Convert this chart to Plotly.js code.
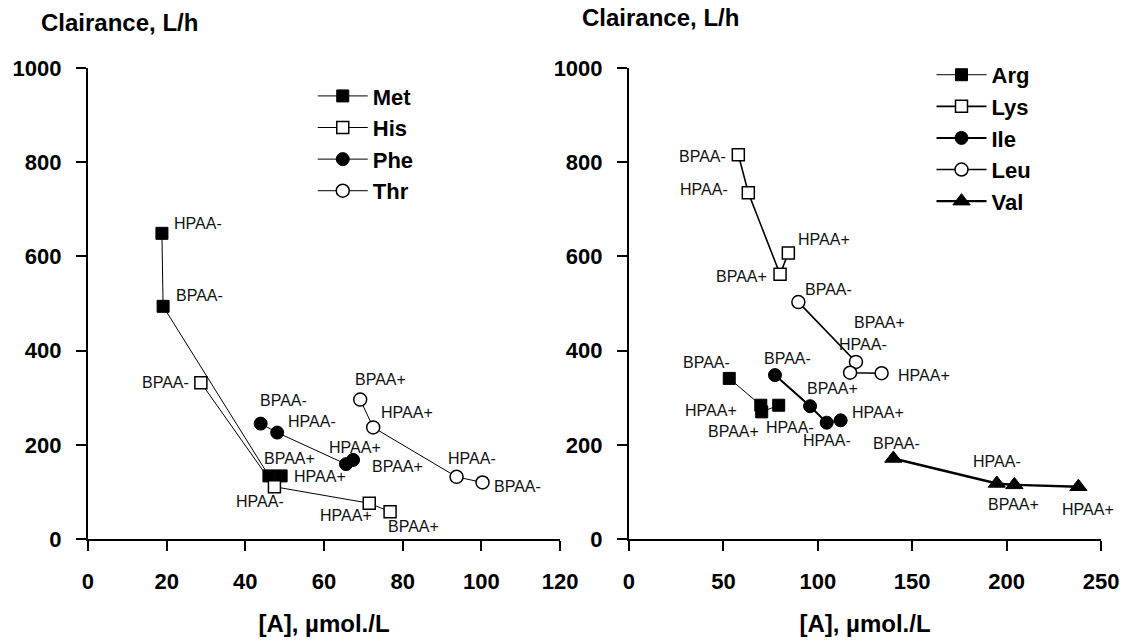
<!DOCTYPE html>
<html>
<head>
<meta charset="utf-8">
<script src="https://cdn.plot.ly/plotly-3.0.1.min.js"></script>
<style>
  html, body { margin: 0; padding: 0; background: #ffffff; }
  #chart { width: 1125px; height: 642px; }
</style>
</head>
<body>
<div id="chart"></div>
<script>
// ---- Data: [A] in µmol/L (x) and clearance in L/h (y) per amino acid ----
// Left panel
const metX = [18.8, 19.1, 46.0, 49.1];
const metY = [649, 494, 134, 134];
const metLab = ['HPAA-', 'BPAA-', 'BPAA+', 'HPAA+'];

const hisX = [28.7, 47.4, 71.5, 76.8];
const hisY = [332, 111, 76, 58];
const hisLab = ['BPAA-', 'HPAA-', 'HPAA+', 'BPAA+'];

const pheX = [43.9, 48.1, 65.6, 67.4];
const pheY = [245, 226, 159, 168];
const pheLab = ['BPAA-', 'HPAA-', 'HPAA+', 'BPAA+'];

const thrX = [69.2, 72.5, 93.7, 100.3];
const thrY = [296, 237, 132, 120];
const thrLab = ['BPAA+', 'HPAA+', 'HPAA-', 'BPAA-'];

// Right panel
const argX = [53.1, 69.8, 70.3, 79.3];
const argY = [341, 284, 270, 284];
const argLab = ['BPAA-', 'HPAA+', 'BPAA+', 'HPAA-'];

const lysX = [57.9, 63.2, 80.0, 84.4];
const lysY = [816, 735, 562, 607];
const lysLab = ['BPAA-', 'HPAA-', 'BPAA+', 'HPAA+'];

const ileX = [77.3, 95.9, 104.7, 112.1];
const ileY = [348, 282, 247, 252];
const ileLab = ['BPAA-', 'BPAA+', 'HPAA-', 'HPAA+'];

const leuX = [89.7, 120.2, 117.1, 133.8];
const leuY = [503, 376, 353, 352];
const leuLab = ['BPAA-', 'HPAA-', 'BPAA+', 'HPAA+'];

const valX = [140.0, 194.8, 204.1, 238.0];
const valY = [171, 118, 115, 111];
const valLab = ['BPAA-', 'HPAA-', 'BPAA+', 'HPAA+'];

// Axis ticks
const leftXTicks = [0, 20, 40, 60, 80, 100, 120];
const rightXTicks = [0, 50, 100, 150, 200, 250];
const yTicks = [0, 200, 400, 600, 800, 1000];

// ---- Styling ----
const FONT = '"Liberation Sans", Arial, sans-serif';
const boldFont = (size) => ({ family: FONT, size: size, color: '#000', weight: 700 });

// pixel offsets of each point label (dx right, dy up)
const metOff = [[36, 10], [36, 11], [21, 17], [39, -1]];
const hisOff = [[-35, 0], [-14, -15], [-23, -12], [23, -15]];
const pheOff = [[23, 23], [35, 11], [9, 17], [44, -7]];
const thrOff = [[20, 20], [34, 15], [15, 18], [35, -4]];
const argOff = [[-23, 16], [-50, -5], [-28, -20], [11, -22]];
const lysOff = [[-36, -2], [-44, 3], [-39, -2], [36, 14]];
const ileOff = [[13, 17], [22, 18], [0, -18], [37, 8]];
const leuOff = [[30, 13], [7, 17], [29, 50], [42, -2]];
const valOff = [[3, 15], [0, 22], [-1, -20], [10, -23]];

function series(name, xs, ys, panel, symbol, filled, lineWidth, size) {
  return {
    type: 'scatter',
    mode: 'lines+markers',
    name: name,
    x: xs,
    y: ys,
    xaxis: panel === 1 ? 'x' : 'x2',
    yaxis: panel === 1 ? 'y' : 'y2',
    legend: panel === 1 ? 'legend' : 'legend2',
    line: { color: '#000', width: lineWidth },
    marker: {
      symbol: symbol,
      size: size,
      color: filled ? '#000' : '#fff',
      line: { color: '#000', width: filled ? 1 : 1.5 }
    },
    hoverinfo: 'x+y+name'
  };
}

const traces = [
  series('Met', metX, metY, 1, 'square', true, 1, 12),
  series('His', hisX, hisY, 1, 'square', false, 1, 12),
  series('Phe', pheX, pheY, 1, 'circle', true, 1, 13),
  series('Thr', thrX, thrY, 1, 'circle', false, 1, 13),
  series('Arg', argX, argY, 2, 'square', true, 1, 12),
  series('Lys', lysX, lysY, 2, 'square', false, 1.6, 12),
  series('Ile', ileX, ileY, 2, 'circle', true, 2, 13),
  series('Leu', leuX, leuY, 2, 'circle', false, 1.6, 13),
  series('Val', valX, valY, 2, 'triangle-up', true, 2.4, 15)
];

function pointLabels(xs, ys, labels, offs, panel) {
  return labels.map((t, i) => ({
    x: xs[i], y: ys[i],
    xref: panel === 1 ? 'x' : 'x2',
    yref: panel === 1 ? 'y' : 'y2',
    text: t,
    showarrow: false,
    xanchor: 'center', yanchor: 'middle',
    xshift: offs[i][0], yshift: offs[i][1],
    font: { family: FONT, size: 16, color: '#111' }
  }));
}

const annotations = [].concat(
  pointLabels(metX, metY, metLab, metOff, 1),
  pointLabels(hisX, hisY, hisLab, hisOff, 1),
  pointLabels(pheX, pheY, pheLab, pheOff, 1),
  pointLabels(thrX, thrY, thrLab, thrOff, 1),
  pointLabels(argX, argY, argLab, argOff, 2),
  pointLabels(lysX, lysY, lysLab, lysOff, 2),
  pointLabels(ileX, ileY, ileLab, ileOff, 2),
  pointLabels(leuX, leuY, leuLab, leuOff, 2),
  pointLabels(valX, valY, valLab, valOff, 2),
  [
    { text: 'Clairance, L/h', xref: 'paper', yref: 'paper', x: 0.1062, y: 0.9657,
      xanchor: 'center', yanchor: 'middle', showarrow: false, font: boldFont(24) },
    { text: 'Clairance, L/h', xref: 'paper', yref: 'paper', x: 0.5871, y: 0.9735,
      xanchor: 'center', yanchor: 'middle', showarrow: false, font: boldFont(24) }
  ]
);

const axisCommon = {
  showline: true, linecolor: '#000', linewidth: 2,
  ticks: 'outside', ticklen: 10, tickwidth: 2, tickcolor: '#000',
  showgrid: false, zeroline: false,
  tickfont: boldFont(22),
  fixedrange: true
};

const yDomain = [0.1604, 0.8941];

const layout = {
  width: 1125, height: 642,
  margin: { l: 0, r: 0, t: 0, b: 0 },
  paper_bgcolor: '#fff', plot_bgcolor: '#fff',
  showlegend: true,
  xaxis: Object.assign({}, axisCommon, {
    domain: [0.0782, 0.4978], range: [0, 120], tickvals: leftXTicks, anchor: 'y',
    ticklabelstandoff: 12,
    title: { text: '[A], µmol./L', font: boldFont(24), standoff: 22 }
  }),
  yaxis: Object.assign({}, axisCommon, {
    domain: yDomain, range: [0, 1000], tickvals: yTicks, anchor: 'x',
    ticklabelstandoff: 10
  }),
  xaxis2: Object.assign({}, axisCommon, {
    domain: [0.5591, 0.9787], range: [0, 250], tickvals: rightXTicks, anchor: 'y2',
    ticklabelstandoff: 12,
    title: { text: '[A], µmol./L', font: boldFont(24), standoff: 22 }
  }),
  yaxis2: Object.assign({}, axisCommon, {
    domain: yDomain, range: [0, 1000], tickvals: yTicks, anchor: 'x2',
    ticklabelstandoff: 10
  }),
  legend: {
    x: 0.278, y: 0.883, xanchor: 'left', yanchor: 'top',
    bgcolor: 'rgba(0,0,0,0)', borderwidth: 0, itemwidth: 50,
    font: boldFont(22), tracegroupgap: 0
  },
  legend2: {
    x: 0.828, y: 0.916, xanchor: 'left', yanchor: 'top',
    bgcolor: 'rgba(0,0,0,0)', borderwidth: 0, itemwidth: 50,
    font: boldFont(22), tracegroupgap: 0
  },
  annotations: annotations
};

Plotly.newPlot('chart', traces, layout, { displayModeBar: false, staticPlot: true });
</script>
</body>
</html>
